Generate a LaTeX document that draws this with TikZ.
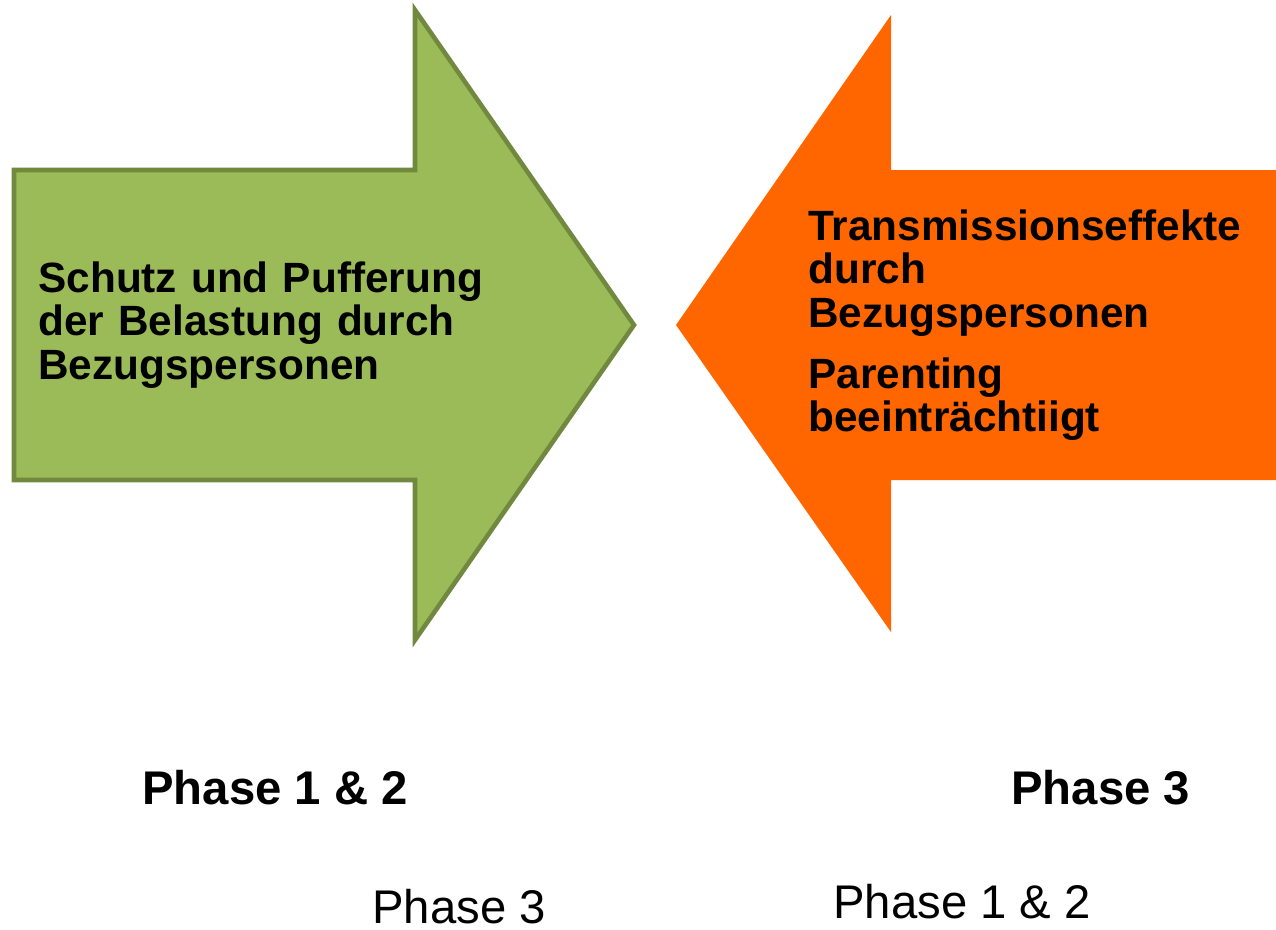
\documentclass[tikz,border=0pt]{standalone}
\usepackage{fontspec}
\setmainfont{Liberation Sans}
\usepackage{xcolor}

\definecolor{leafgreen}{HTML}{9BBB59}
\definecolor{leafedge}{HTML}{71893F}
\definecolor{signalorange}{HTML}{FF6600}

\tikzset{
  boxtext/.style={anchor=base west, inner sep=0pt, text width=9.5cm, align=left,
    font=\fontsize{24.1}{24.9}\selectfont\bfseries},
  phasebold/.style={anchor=base west, inner sep=0pt, font=\fontsize{26.9}{30}\selectfont\bfseries},
  phaseplain/.style={anchor=base west, inner sep=0pt, font=\fontsize{26.9}{30}\selectfont}
}

\begin{document}
\begin{tikzpicture}[x=0.02cm, y=-0.02cm]
  \useasboundingbox (0,0) rectangle (1276,930);

  % left arrow
  \draw[fill=leafgreen, draw=leafedge, line width=2.6pt, line join=miter]
    (14,170) -- (415,170) -- (415,10) -- (634,325) -- (415,640) -- (415,480) -- (14,480) -- cycle;

  % right arrow
  \fill[signalorange]
    (1276,170) -- (891,170) -- (891,15) -- (676,325) -- (891,632) -- (891,480) -- (1276,480) -- cycle;

  \node[boxtext] (schutz) at (38,292) {Schutz und Pufferung\\der Belastung durch\\Bezugspersonen};
  \node[boxtext] (trans) at (808,240) {Transmissionseffekte\\durch\\Bezugspersonen\\[9.6pt]Parenting\\beeintr\"achtiigt};

  \node[phasebold] (p12b) at (142,804) {Phase 1 \& 2};
  \node[phasebold] (p3b) at (1011,804) {Phase 3};
  \node[phaseplain] (p3) at (372,923) {Phase 3};
  \node[phaseplain] (p12) at (833,918) {Phase 1 \& 2};
\end{tikzpicture}
\end{document}
